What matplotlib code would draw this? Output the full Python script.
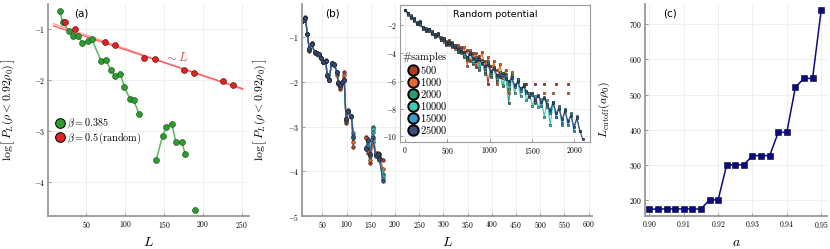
import numpy as np
import matplotlib
matplotlib.use("Agg")
import matplotlib.pyplot as plt
from matplotlib.ticker import FuncFormatter
from matplotlib.lines import Line2D

plt.rcParams['mathtext.fontset'] = 'cm'
plt.rcParams['font.family'] = ['DejaVu Sans']

nan = np.nan

# ---- panel (a) data
L_green = [16, 20, 28, 33, 40, 45, 52, 57, 69, 75, 82, 87, 94, 99, 106, 111, 118,
           nan, 140, 148, 153, 160, 165, 173, 177, nan, 190]
logP_green = [-0.65, -0.88, -1.05, -1.14, -1.15, -1.28, -1.25, -1.20, -1.63, -1.61,
              -1.82, -1.92, -1.90, -2.14, -2.37, -2.40, -2.68,
              nan, -3.57, -3.10, -2.93, -2.86, -3.22, -3.22, -3.46, nan, -4.55]
L_red = [22.5, 36, 74, 87, 124, 138, 175, 189, 226, 239]
logP_red = [-0.88, -1.00, -1.27, -1.33, -1.57, -1.60, -1.82, -1.87, -2.03, -2.11]

# ---- panel (b) data (main), one list per number of samples
samples = ['500', '1000', '2000', '10000', '15000', '25000']
colors = ['#b03a1e', '#e9682b', '#2c9a74', '#3ccab4', '#3b9dcc', '#3c4d7e']
L_b = [8, 12, 15, 19, 23, 28, 34, 40, 44, 47, 51, 57, 60, 64, 69, 75, 80, 83, 86, 91,
       95, 99, 104, 110, 114, 127, 140, 145, 149, 154, 160, 164, 168, 175]
b_500 = [-0.62, -0.60, -0.55, -0.92, -1.30, -1.12, -1.33, -1.36, -1.38, -1.47, -1.55, -1.50,
         -1.86, -1.96, -1.57, -1.60, -1.83, -2.04, -2.15, -2.02, -1.78, -2.92, -2.66, -2.78,
         -3.45, nan, -3.22, -3.58, -3.82, -3.35, -3.60, -3.58, -3.60, -3.75]
b_1000 = [-0.63, -0.61, -0.56, -0.93, -1.28, -1.13, -1.32, -1.35, -1.39, -1.46, -1.56, -1.52,
          -1.85, -1.95, -1.59, -1.61, -1.80, -2.02, -2.12, -2.01, -1.85, -2.88, -2.65, -2.77,
          -3.35, nan, -3.25, -3.45, -3.75, -3.28, -3.58, -3.66, -3.62, -3.95]
b_2000 = [-0.63, -0.60, -0.56, -0.92, -1.26, -1.14, -1.34, -1.36, -1.37, -1.45, -1.55, -1.53,
          -1.86, -1.94, -1.58, -1.60, -1.78, -2.01, -2.08, -2.00, -1.94, -2.84, -2.63, -2.75,
          -3.25, nan, -3.45, -3.32, -3.66, -3.00, -3.62, -3.64, -3.70, -4.05]
b_10000 = [-0.64, -0.61, -0.57, -0.92, -1.25, -1.15, -1.33, -1.35, -1.38, -1.46, -1.55, -1.52,
           -1.85, -1.95, -1.58, -1.61, -1.78, -2.00, -2.07, -2.00, -1.96, -2.83, -2.64, -2.76,
           -3.22, nan, -3.49, -3.30, -3.62, -3.05, -3.66, -3.61, -3.72, -4.10]
b_15000 = [-0.64, -0.61, -0.57, -0.93, -1.25, -1.15, -1.34, -1.36, -1.39, -1.47, -1.56, -1.53,
           -1.84, -1.95, -1.59, -1.61, -1.77, -2.01, -2.05, -1.99, -1.97, -2.80, -2.65, -2.75,
           -3.15, nan, -3.48, -3.28, -3.60, -3.12, -3.64, -3.62, -3.74, -4.18]
b_25000 = [-0.63, -0.60, -0.56, -0.92, -1.24, -1.14, -1.33, -1.35, -1.38, -1.46, -1.55, -1.52,
           -1.85, -1.95, -1.58, -1.60, -1.78, -2.00, -2.06, -2.00, -1.96, -2.82, -2.64, -2.76,
           -3.20, nan, -3.50, -3.30, -3.62, -3.22, -3.66, -3.60, -3.72, -4.22]

# ---- panel (b) inset: random potential
L_in = np.arange(0, 2101, 35)
in_500 = [-0.88, -1.10, -1.50, -1.50, -1.95, -1.70, -2.30, -2.20, -2.45, -2.40, -2.85, -2.55,
          -3.10, -2.90, -3.40, -3.10, -3.60, -3.40, -3.90, -3.60, -4.30, -3.80, -4.60, -4.00,
          -5.00, -4.20, -4.80, -4.60, -6.20, -4.90, nan, -5.20, nan, -5.50, nan, -6.20,
          nan, nan, nan, nan, nan, -6.20, nan, nan, -6.20, nan, nan, -6.20, nan, nan,
          nan, -6.20, nan, nan, nan, -6.20, nan, nan, nan, nan, nan]
in_1000 = [-0.90, -1.25, -1.30, -1.70, -1.75, -2.00, -2.10, -2.45, -2.25, -2.65, -2.60, -2.80,
           -2.85, -3.20, -3.15, -3.45, -3.20, -3.70, -3.40, -4.00, -3.60, -4.90, -3.80, -4.60,
           -4.00, -4.90, -3.90, -5.40, -4.30, -5.60, -4.60, -6.20, -4.80, -5.80, -5.20, -6.90,
           -5.40, nan, -5.90, nan, -6.20, nan, -6.90, nan, nan, nan, nan, -6.90, nan, nan,
           -6.90, nan, nan, nan, nan, -6.90, nan, nan, nan, nan, nan]
in_2000 = [-0.93, -1.20, -1.35, -1.60, -1.80, -1.90, -2.15, -2.30, -2.40, -2.50, -2.80, -2.60,
           -3.05, -2.95, -3.35, -3.20, -3.50, -3.45, -3.90, -3.75, -4.20, -4.50, -3.95, -4.80,
           -4.30, -5.20, -4.50, -5.50, -4.60, -5.70, -5.00, -6.00, -5.40, -6.40, -5.50, -7.60,
           -5.60, nan, -5.90, nan, -6.20, nan, -6.90, nan, -7.60, nan, nan, nan, nan, nan,
           nan, nan, nan, nan, nan, nan, nan, nan, nan, nan, nan]
in_10000 = [-0.93, -1.12, -1.45, -1.52, -1.90, -1.75, -2.25, -2.30, -2.35, -2.50, -2.75, -2.60,
            -3.00, -3.00, -3.30, -3.25, -3.45, -3.50, -3.80, -3.80, -4.10, -4.45, -4.00, -4.70,
            -4.45, -5.10, -4.60, -5.30, -4.75, -5.60, -5.00, -5.90, -5.50, -6.30, -5.70, -6.60,
            -5.70, -6.90, -6.00, -7.10, -6.30, -7.40, -6.90, -7.80, -7.10, -7.90, -7.30, -8.60,
            -7.40, -9.20, -7.50, -8.60, -7.80, -9.20, -8.00, nan, -8.30, nan, -8.50, nan, nan]
in_15000 = [-0.93, -1.18, -1.38, -1.60, -1.82, -1.85, -2.15, -2.40, -2.28, -2.60, -2.66, -2.70,
            -2.90, -3.10, -3.20, -3.35, -3.30, -3.60, -3.65, -3.90, -3.90, -4.35, -4.05, -4.40,
            -4.50, -4.50, -4.70, -5.05, -4.80, -5.40, -5.10, -5.65, -5.60, -5.55, -5.80, -6.20,
            -5.75, -6.45, -6.05, -6.70, -6.35, -6.90, -7.05, -7.00, -7.50, -7.00, -7.80, -7.20,
            -7.90, -8.30, -7.50, -8.60, -7.90, -9.00, -8.10, -9.20, -8.40, -9.60, -8.60, -9.60, nan]
in_25000 = [-0.93, -1.15, -1.40, -1.55, -1.85, -1.80, -2.20, -2.35, -2.30, -2.55, -2.70, -2.65,
            -2.95, -3.05, -3.25, -3.30, -3.35, -3.55, -3.70, -3.85, -3.95, -4.30, -4.10, -4.35,
            -4.55, -4.40, -4.75, -4.95, -4.85, -5.30, -5.15, -5.55, -5.70, -5.45, -5.85, -6.05,
            -5.80, -6.30, -6.10, -6.55, -6.40, -6.75, -7.20, -6.85, -7.35, -7.10, -7.55, -7.25,
            -7.70, -8.10, -7.60, -8.30, -8.00, -8.75, -8.20, -8.90, -8.50, -9.30, -8.70, -9.60, -10.20]

# ---- panel (c) data
a_vals = [0.9, 0.9025, 0.905, 0.9075, 0.91, 0.9125, 0.915, 0.9175, 0.92, 0.9225, 0.925,
          0.9275, 0.93, 0.9325, 0.935, 0.9375, 0.94, 0.9425, 0.945, 0.9475, 0.95]
L_cut = [173, 174, 174, 174, 174, 174, 174, 200, 200, 300, 300, 300, 326, 326, 326,
         392, 393, 521, 546, 546, 740]

W, H = 830, 249
fig = plt.figure(figsize=(W / 100, H / 100), dpi=100)


def px_axes(l, t, r, b):
    return fig.add_axes([l / W, 1 - b / H, (r - l) / W, (b - t) / H])


def style(ax, full_frame=False):
    ax.grid(True, color='#ececec', lw=0.6)
    ax.set_axisbelow(True)
    for s in ['top', 'right']:
        ax.spines[s].set_visible(full_frame)
    for s in ax.spines.values():
        s.set_color('#999999')
        s.set_linewidth(0.8 if full_frame else 1.3)
    ax.tick_params(direction='in', length=2.5, width=0.6, color='#888888',
                   labelsize=5.5, pad=2)


mfmt = FuncFormatter(lambda v, p: f"${v:g}$")
ylab = r"$\log\left[\,P_L(\rho < 0.92\rho_0)\,\right]$"

# (a)
ax = px_axes(48, 4, 249, 216)
style(ax)
ax.plot(L_green, logP_green, '-', color='#5cb85c', lw=1.1, zorder=2)
ax.plot(L_green, logP_green, 'o', ms=4.3, mfc='#2f9a2f', mec='#174d17', mew=0.4, zorder=3)
Lr = np.array(L_red)
Pr = np.array(logP_red)
xx = np.array([8, 251])
for start, alpha in [(2, 0.9), (1, 0.55)]:
    k, c = np.polyfit(Lr[start:], Pr[start:], 1)
    ax.plot(xx, k * xx + c, '-', color='#ff5050', lw=1.0, alpha=alpha)
ax.plot(L_red, logP_red, 'o', ms=4.3, mfc='#e02222', mec='#4d0a0a', mew=0.4, zorder=3)
ax.text(165, -1.56, r"$\sim L$", color='#ee4444', fontsize=9, ha='center', va='center')
ax.text(0.13, 0.955, "(a)", transform=ax.transAxes, fontsize=7.5, va='center')
h = [Line2D([], [], color='#5cb85c', lw=0.9, marker='o', ms=7, mfc='#2f9a2f', mec='black', mew=0.7),
     Line2D([], [], color='#ff5050', lw=0.9, marker='o', ms=7, mfc='#e02222', mec='black', mew=0.7)]
ax.legend(h, [r"$\beta = 0.385$", r"$\beta = 0.5\,(\mathrm{random})$"], loc='center left',
          bbox_to_anchor=(0.0, 0.40), frameon=False, fontsize=7.3, handlelength=0.9,
          handletextpad=0.3, labelspacing=0.0, borderpad=0.2)
ax.set_xlim(1, 259)
ax.set_ylim(-4.67, -0.52)
ax.set_xticks([50, 100, 150, 200, 250])
ax.set_yticks([-1, -2, -3, -4])
ax.xaxis.set_major_formatter(mfmt)
ax.yaxis.set_major_formatter(mfmt)
ax.set_xlabel(r"$L$", fontsize=10)
ax.set_ylabel(ylab, fontsize=8.5)
ax.xaxis.set_label_coords(0.5, -19 / 212)
ax.yaxis.set_label_coords(-31 / 201, 0.5)

# (b)
ax = px_axes(302, 4, 592, 216)
style(ax)
b_series = [b_500, b_1000, b_2000, b_10000, b_15000, b_25000]
for y, col in zip(b_series, colors):
    ax.plot(L_b, y, '-o', color=col, lw=0.9, ms=2.6, mfc=col, mec='#111111', mew=0.35)
ax.set_xlim(8, 607)
ax.set_ylim(-5, -0.25)
ax.set_xticks(range(50, 601, 50))
ax.set_yticks([-1, -2, -3, -4, -5])
ax.xaxis.set_major_formatter(mfmt)
ax.yaxis.set_major_formatter(mfmt)
ax.set_xlabel(r"$L$", fontsize=10)
ax.set_ylabel(ylab, fontsize=8.5)
ax.xaxis.set_label_coords(0.5, -19 / 212)
ax.yaxis.set_label_coords(-33 / 290, 0.5)
ax.text(0.08, 0.955, "(b)", transform=ax.transAxes, fontsize=7.5, va='center')

# inset
ins = px_axes(400, 5, 590, 142)
style(ins, full_frame=True)
in_series = [in_500, in_1000, in_2000, in_10000, in_15000, in_25000]
for y, col in zip(in_series, colors):
    ins.plot(L_in, y, '-o', color=col, lw=0.8, ms=1.9, mfc=col, mec='#111111', mew=0.3)
ins.set_xlim(-59, 2185)
ins.set_ylim(-10.4, -0.55)
ins.set_xticks([0, 500, 1000, 1500, 2000])
ins.set_yticks([-2, -4, -6, -8, -10])
ins.xaxis.set_major_formatter(mfmt)
ins.yaxis.set_major_formatter(mfmt)
ins.text(0.5, 0.93, "Random potential", transform=ins.transAxes, fontsize=6.8,
         ha='center', va='center')
hs = [Line2D([], [], ls='', marker='o', ms=7.5, mfc=c, mec='black', mew=1.4) for c in colors]
ins.legend(hs, [f"${s}$" for s in samples], title=r"$\#\mathrm{samples}$",
           title_fontsize=7.5, loc='upper left', bbox_to_anchor=(-0.025, 0.72),
           frameon=False, fontsize=7.5, handlelength=0.8, handletextpad=0.2,
           labelspacing=0.0, borderpad=0.1, alignment='right')

# (c)
ax = px_axes(645, 4, 827, 216)
style(ax)
ax.plot(a_vals, L_cut, '-s', color='#0b0b80', lw=1.1, ms=3.8, mfc='#0b0b80', mec='#000033', mew=0.4)
ax.set_xlim(0.8987, 0.9517)
ax.set_ylim(154, 758)
ax.set_xticks([0.90, 0.91, 0.92, 0.93, 0.94, 0.95])
ax.set_yticks([200, 300, 400, 500, 600, 700])
ax.xaxis.set_major_formatter(FuncFormatter(lambda v, p: f"${v:.2f}$"))
ax.yaxis.set_major_formatter(mfmt)
ax.set_xlabel(r"$a$", fontsize=10)
ax.set_ylabel(r"$L_{\mathrm{cutoff}}(a\rho_0)$", fontsize=8.5)
ax.xaxis.set_label_coords(0.5, -19 / 212)
ax.yaxis.set_label_coords(-33 / 182, 0.5)
ax.text(0.1, 0.955, "(c)", transform=ax.transAxes, fontsize=7.5, va='center')

fig.savefig("out.png", dpi=100)
